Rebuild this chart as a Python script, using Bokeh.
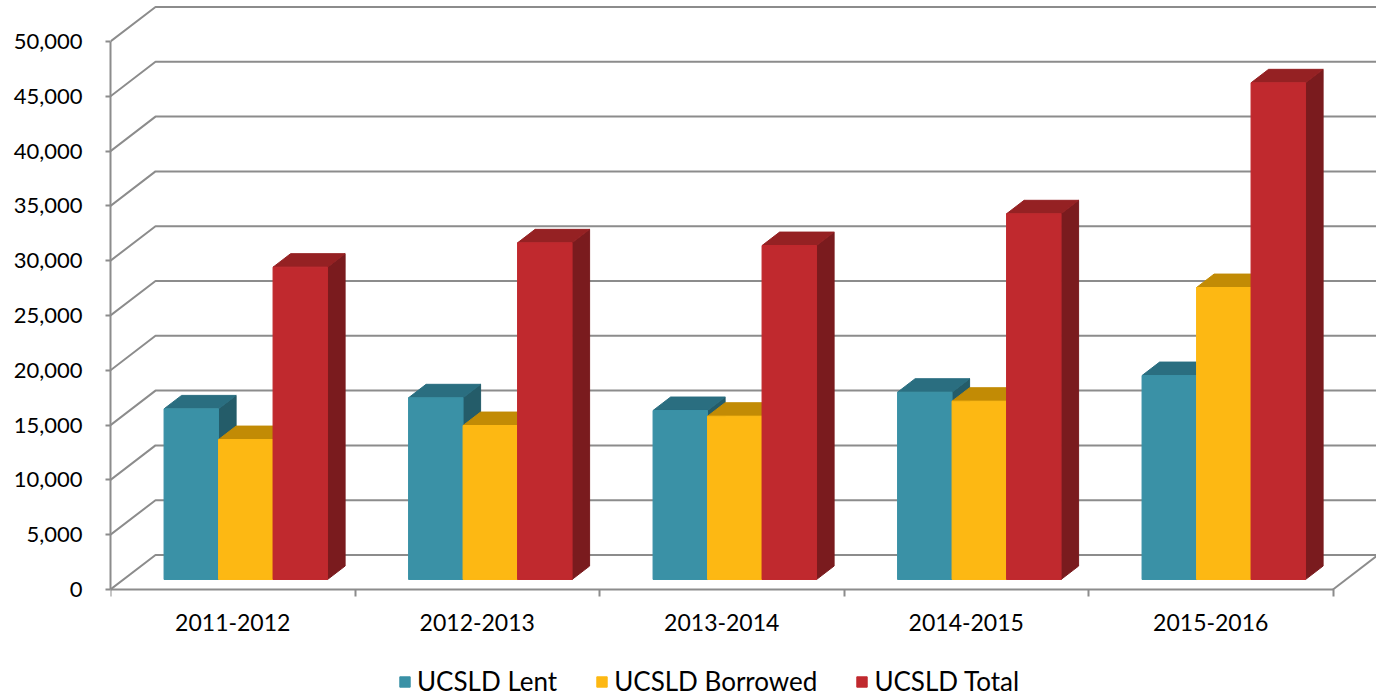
from bokeh.plotting import figure
from bokeh.models import (Range1d, LinearAxis, FixedTicker, NumeralTickFormatter,
                          Legend, LegendItem)
from bokeh.embed import file_html
from bokeh.resources import INLINE

# ---------------- data ----------------
categories = ["2011-2012", "2012-2013", "2013-2014", "2014-2015", "2015-2016"]
series_names = ["UCSLD Lent", "UCSLD Borrowed", "UCSLD Total"]
lent = [15570, 16580, 15420, 17090, 18610]
borrowed = [12770, 14050, 14900, 16270, 26640]
total = [28500, 30720, 30470, 33370, 45320]
y_ticks = [0, 5000, 10000, 15000, 20000, 25000, 30000, 35000, 40000, 45000, 50000]

# ---------------- styling / layout ----------------
FONT = "Lato"
GRID = "#8C8C8C"
COLORS = [  # (front, top, side)
    ("#3A91A6", "#2A6E80", "#245C69"),
    ("#FDB813", "#C28B05", "#A07205"),
    ("#C0292E", "#952123", "#7A1B1E"),
]
W, H = 1376, 696
FL = 110                 # left border -> frame starts at x=110
Y0 = 589.0               # pixel row of the front zero line
PPU = 548.0 / 50000      # pixels per value unit
GPX = 244.5              # pixels per category
frame_w = W - FL
x_end = frame_w / GPX
y_start = -(H - Y0) / PPU
y_end = Y0 / PPU

DX = 45.0 / GPX          # full depth of the floor, in data units
DY = 34.5 / PPU
F0 = 0.29                # bar front plane (fraction of depth)
FB = 0.39                # bar depth (fraction of depth)
BW = 54.5 / GPX          # bar width
ncat = len(categories)

p = figure(width=W, height=H, x_range=Range1d(0, x_end), y_range=Range1d(y_start, y_end),
           x_axis_type=None, y_axis_type=None, toolbar_location=None, output_backend="svg",
           min_border_left=FL, min_border_right=0, min_border_top=0, min_border_bottom=0,
           outline_line_color=None, background_fill_color="white", border_fill_color="white")

# ---------------- axes ----------------
yaxis = LinearAxis(ticker=FixedTicker(ticks=y_ticks), formatter=NumeralTickFormatter(format="0,0"),
                   bounds=(y_ticks[0], y_ticks[-1]),
                   axis_line_color=GRID, axis_line_width=2,
                   major_tick_out=5, major_tick_in=0, minor_tick_out=0, minor_tick_in=0,
                   major_tick_line_color=GRID, major_tick_line_width=2,
                   major_label_standoff=23, major_label_text_font=FONT,
                   major_label_text_font_size="22px", major_label_text_color="black")
p.add_layout(yaxis, "left")

centers = [k + 0.5 for k in range(ncat)]
xaxis = LinearAxis(ticker=FixedTicker(ticks=centers, minor_ticks=list(range(ncat + 1))),
                   major_label_overrides={c: lab for c, lab in zip(centers, categories)},
                   bounds=(0, ncat), fixed_location=0,
                   axis_line_color=GRID, axis_line_width=2,
                   major_tick_out=0, major_tick_in=0, minor_tick_out=7, minor_tick_in=0,
                   minor_tick_line_color=GRID, minor_tick_line_width=2,
                   major_label_standoff=17, major_label_text_font=FONT,
                   major_label_text_font_size="23px", major_label_text_color="black")
p.add_layout(xaxis, "below")

# ---------------- 3D walls: gridlines ----------------
gx = [[0, DX, ncat + DX + 1] for v in y_ticks]
gy = [[v, v + DY, v + DY] for v in y_ticks]
p.multi_line(gx, gy, line_color=GRID, line_width=2)
p.line([ncat, ncat + DX], [0, DY], line_color=GRID, line_width=2)

# ---------------- bars ----------------
x0f, y0f = F0 * DX, F0 * DY
bdx, bdy = FB * DX, FB * DY
front_renderers = []
for i, vals in enumerate([lent, borrowed, total]):
    front, topc, side = COLORS[i]
    lefts = [k + 0.5 + x0f + (i - 1.5) * BW for k in range(ncat)]
    rights = [l + BW for l in lefts]
    tops = [y0f + v for v in vals]
    side_xs = [[r, r, r + bdx, r + bdx] for r in rights]
    side_ys = [[y0f, t, t + bdy, y0f + bdy] for t in tops]
    top_xs = [[l, r, r + bdx, l + bdx] for l, r in zip(lefts, rights)]
    top_ys = [[t, t, t + bdy, t + bdy] for t in tops]
    p.patches(side_xs, side_ys, fill_color=side, line_color=side, line_width=1)
    p.patches(top_xs, top_ys, fill_color=topc, line_color=topc, line_width=1)
    r = p.quad(left=lefts, right=rights, bottom=y0f, top=tops,
               fill_color=front, line_color=front, line_width=1)
    front_renderers.append(r)

# ---------------- legend ----------------
legend = Legend(items=[LegendItem(label=n, renderers=[r]) for n, r in zip(series_names, front_renderers)],
                orientation="horizontal", location=(288, -1),
                glyph_width=13, glyph_height=13, label_standoff=6, spacing=38,
                padding=0, margin=0, border_line_color=None, background_fill_alpha=0,
                label_text_font=FONT, label_text_font_size="26px", label_text_color="black")
p.add_layout(legend)

open("out.html", "w").write(file_html(p, INLINE))
